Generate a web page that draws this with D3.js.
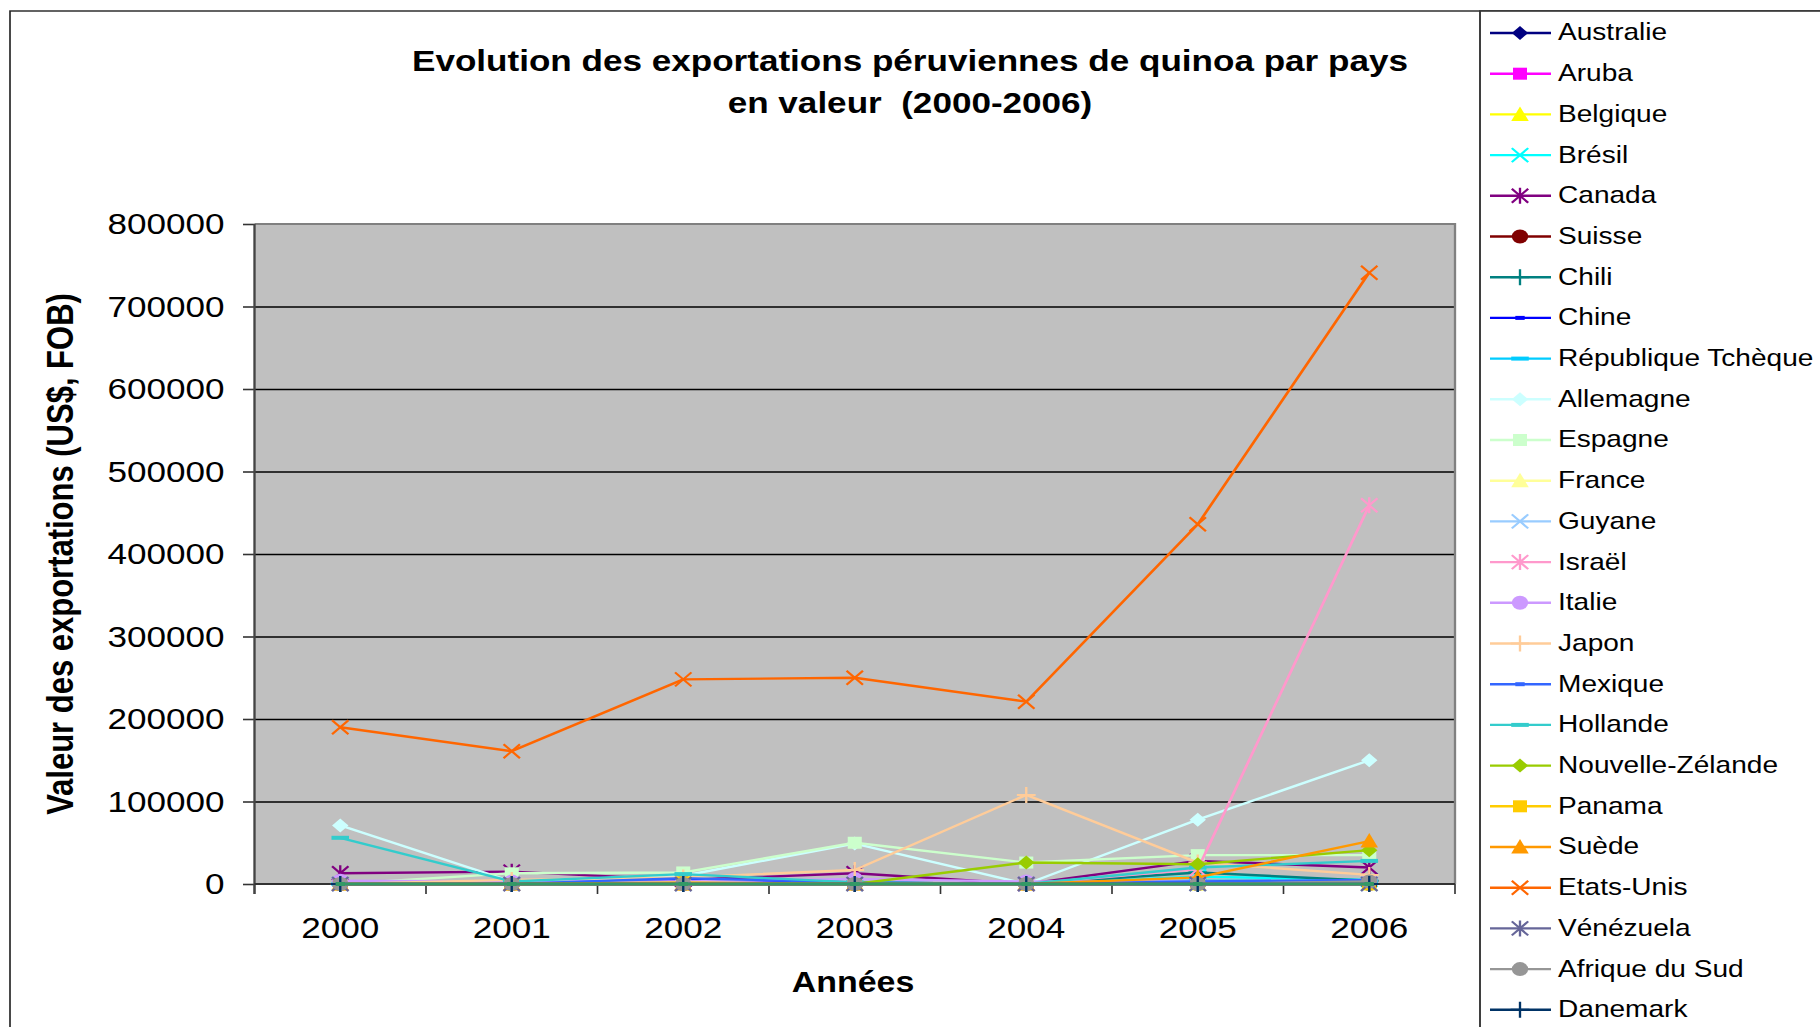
<!DOCTYPE html>
<html>
<head>
<meta charset="utf-8">
<script src="https://cdn.jsdelivr.net/npm/d3@7"></script>
<style>
  body { margin: 0; background: #fff; }
  svg { display: block; font-family: "Liberation Sans", Arial, sans-serif; }
</style>
</head>
<body>
<svg id="chart"></svg>
<script>
// ---- data ----
const years = ["2000", "2001", "2002", "2003", "2004", "2005", "2006"];
const yTicks = [0, 100000, 200000, 300000, 400000, 500000, 600000, 700000, 800000];

const countries = ["Australie", "Aruba", "Belgique", "Brésil", "Canada", "Suisse", "Chili", "Chine",
  "République Tchèque", "Allemagne", "Espagne", "France", "Guyane", "Israël", "Italie", "Japon",
  "Mexique", "Hollande", "Nouvelle-Zélande", "Panama", "Suède", "Etats-Unis", "Vénézuela",
  "Afrique du Sud", "Danemark", ""];

const seriesValues = [
  [0, 0, 0, 0, 0, 0, 0],                                   // Australie
  [0, 0, 0, 0, 0, 0, 0],                                   // Aruba
  [0, 0, 0, 0, 0, 0, 0],                                   // Belgique
  [0, 0, 0, 0, 0, 9000, 5000],                             // Brésil
  [13000, 15000, 5000, 13000, 0, 28000, 20000],            // Canada
  [0, 0, 0, 0, 0, 0, 0],                                   // Suisse
  [0, 0, 0, 0, 0, 14000, 4000],                            // Chili
  [0, 0, 6000, 2000, 0, 0, 0],                             // Chine
  [0, 0, 0, 0, 0, 4000, 3000],                             // République Tchèque
  [71000, 3000, 10000, 49000, 0, 78000, 150000],           // Allemagne
  [0, 13000, 14000, 50000, 26000, 35000, 35000],           // Espagne
  [0, 0, 0, 0, 0, 0, 0],                                   // France
  [0, 0, 0, 0, 0, 0, 0],                                   // Guyane
  [0, 0, 0, 0, 0, 18000, 459000],                          // Israël
  [4000, 3000, 3000, 6000, 3000, 3000, 4000],              // Italie
  [0, 5000, 8000, 17000, 108000, 26000, 11000],            // Japon
  [0, 0, 7000, 2000, 0, 3000, 5000],                       // Mexique
  [56000, 3000, 12000, 2000, 0, 20000, 28000],             // Hollande
  [0, 0, 0, 0, 26000, 24000, 41000],                       // Nouvelle-Zélande
  [0, 0, 2000, 0, 0, 0, 0],                                // Panama
  [0, 0, 0, 0, 0, 8000, 52000],                            // Suède
  [190000, 161000, 248000, 250000, 221000, 436000, 741000], // Etats-Unis
  [0, 0, 0, 0, 0, 0, 0],                                   // Vénézuela
  [0, 0, 0, 0, 0, 0, 3000],                                // Afrique du Sud
  [0, 0, 0, 0, 0, 0, 0],                                   // Danemark
  [0, 0, 0, 0, 0, 0, 0]                                    // (hors cadre)
];

const colors = ["#000080", "#FF00FF", "#FFFF00", "#00FFFF", "#800080", "#800000", "#008080", "#0000FF",
  "#00CCFF", "#CCFFFF", "#CCFFCC", "#FFFF99", "#99CCFF", "#FF99CC", "#CC99FF", "#FFCC99",
  "#3366FF", "#33CCCC", "#99CC00", "#FFCC00", "#FF9900", "#FF6600", "#666699",
  "#969696", "#003366", "#339966"];

const markerTypes = ["diamond", "square", "triangle", "x", "star", "circle", "plus", "dash", "longdash"];

// ---- layout ----
const SX = 1.17;   // the reference is stretched horizontally
const W = 1820, H = 1027;
const px = v => v / SX;

const svg = d3.select("#chart")
  .attr("width", W)
  .attr("height", H)
  .attr("viewBox", `0 0 ${W / SX} ${H}`)
  .attr("preserveAspectRatio", "none");

const plot = { left: px(254.5), right: px(1455), top: 224, bottom: 884 };

const x = d3.scaleBand().domain(years).range([plot.left, plot.right]);
const y = d3.scaleLinear().domain([0, 800000]).range([plot.bottom, plot.top]);

// outer chart border and legend box
svg.append("rect")
  .attr("x", px(10)).attr("y", 11)
  .attr("width", W).attr("height", H)
  .attr("fill", "none").attr("stroke", "#222").attr("stroke-width", 1.4);

svg.append("rect")
  .attr("x", px(1480)).attr("y", 11)
  .attr("width", W).attr("height", H)
  .attr("fill", "#fff").attr("stroke", "#333").attr("stroke-width", 1.6);

// title
const title = svg.append("text")
  .attr("text-anchor", "middle")
  .style("font-size", "30px")
  .style("font-weight", "bold")
  .style("white-space", "pre");
title.append("tspan").attr("x", px(910)).attr("y", 71)
  .text("Evolution des exportations péruviennes de quinoa par pays");
title.append("tspan").attr("x", px(910)).attr("y", 113)
  .text("en valeur  (2000-2006)");

// plot area
svg.append("rect")
  .attr("x", plot.left).attr("y", plot.top)
  .attr("width", plot.right - plot.left).attr("height", plot.bottom - plot.top)
  .attr("fill", "#C0C0C0");

// gridlines
svg.append("g")
  .attr("transform", `translate(${plot.left},0)`)
  .call(d3.axisLeft(y).tickValues(yTicks.slice(1, -1)).tickSize(-(plot.right - plot.left)).tickFormat(""))
  .call(g => g.select(".domain").remove())
  .call(g => g.selectAll("line").attr("stroke", "#000").attr("stroke-width", 1.3));

// plot border top / right
svg.append("path")
  .attr("d", `M${plot.left},${plot.top}H${plot.right}V${plot.bottom}`)
  .attr("fill", "none").attr("stroke", "#808080").attr("stroke-width", 2);

// y axis
svg.append("g")
  .attr("transform", `translate(${plot.left},0)`)
  .call(d3.axisLeft(y).tickValues(yTicks).tickSize(px(11.5)).tickPadding(px(18.5)).tickFormat(d3.format("d")))
  .call(g => g.select(".domain").remove())
  .call(g => g.selectAll("line").attr("stroke", "#333").attr("stroke-width", 1.6))
  .call(g => g.selectAll("text")
    .attr("fill", "#000")
    .style("font-family", "'Liberation Sans', Arial, sans-serif")
    .style("font-size", "30px"));

// x axis labels
svg.append("g")
  .attr("transform", `translate(0,${plot.bottom})`)
  .call(d3.axisBottom(x).tickSize(0).tickPadding(33))
  .call(g => g.select(".domain").remove())
  .call(g => g.selectAll("text")
    .attr("fill", "#000")
    .style("font-family", "'Liberation Sans', Arial, sans-serif")
    .style("font-size", "30px"));

// x ticks at category boundaries
const boundaries = years.map(d => x(d)).concat([plot.right]);
svg.append("g").selectAll("line")
  .data(boundaries)
  .join("line")
  .attr("x1", d => d).attr("x2", d => d)
  .attr("y1", plot.bottom).attr("y2", plot.bottom + 10)
  .attr("stroke", "#333").attr("stroke-width", 1.4);

// axis lines
svg.append("line")
  .attr("x1", plot.left).attr("x2", plot.left)
  .attr("y1", plot.top).attr("y2", plot.bottom + 10)
  .attr("stroke", "#444").attr("stroke-width", 2);
svg.append("line")
  .attr("x1", plot.left).attr("x2", plot.right)
  .attr("y1", plot.bottom).attr("y2", plot.bottom)
  .attr("stroke", "#333").attr("stroke-width", 2.2);

// axis titles
svg.append("text")
  .attr("transform", `translate(${px(73)},554) rotate(-90)`)
  .attr("text-anchor", "middle")
  .style("font-size", "31px")
  .style("font-weight", "bold")
  .text("Valeur des exportations (US$, FOB)");

svg.append("text")
  .attr("x", px(853)).attr("y", 992)
  .attr("text-anchor", "middle")
  .style("font-size", "29px")
  .style("font-weight", "bold")
  .text("Années");

// marker shapes
function markerPath(type) {
  const r = 7;
  switch (type) {
    case "diamond": return `M0,${-r}L${r},0L0,${r}L${-r},0Z`;
    case "square": return "M-6,-6h12v12h-12Z";
    case "triangle": return `M0,${-r - 1}L${r + 0.5},${r - 0.5}L${-r - 0.5},${r - 0.5}Z`;
    case "x": return `M${-r},${-r}L${r},${r}M${-r},${r}L${r},${-r}`;
    case "star": return `M${-r},${-r}L${r},${r}M${-r},${r}L${r},${-r}M0,${-r - 1}V${r + 1}`;
    case "circle": return `M${r},0A${r},${r} 0 1 1 ${-r},0A${r},${r} 0 1 1 ${r},0Z`;
    case "plus": return `M${-r - 1},0H${r + 1}M0,${-r - 1}V${r + 1}`;
    case "dash": return "M-4,-2h8v4h-8Z";
    case "longdash": return "M-7.5,-2h15v4h-15Z";
  }
}
const strokedMarker = t => t === "x" || t === "star" || t === "plus";

function drawMarker(g, type, color) {
  const p = g.append("path").attr("d", markerPath(type));
  if (strokedMarker(type)) p.attr("fill", "none").attr("stroke", color).attr("stroke-width", 2);
  else p.attr("fill", color);
}

// series
const line = d3.line()
  .x((d, i) => x(years[i]) + x.bandwidth() / 2)
  .y(d => y(d));

const seriesG = svg.append("g");
seriesValues.forEach((vals, s) => {
  const color = colors[s];
  const type = markerTypes[s % markerTypes.length];
  seriesG.append("path")
    .datum(vals)
    .attr("d", line)
    .attr("fill", "none")
    .attr("stroke", color)
    .attr("stroke-width", 2.4)
    .attr("stroke-linejoin", "round");
  vals.forEach((v, i) => {
    const m = seriesG.append("g")
      .attr("transform", `translate(${x(years[i]) + x.bandwidth() / 2},${y(v)})`);
    drawMarker(m, type, color);
  });
});

// legend
const legend = svg.append("g");
countries.forEach((name, s) => {
  if (!name) return;
  const ly = 33 + s * 40.7;
  const color = colors[s];
  legend.append("line")
    .attr("x1", px(1490)).attr("x2", px(1551))
    .attr("y1", ly).attr("y2", ly)
    .attr("stroke", color).attr("stroke-width", 2.4);
  const m = legend.append("g").attr("transform", `translate(${px(1520)},${ly})`);
  drawMarker(m, markerTypes[s % markerTypes.length], color);
  legend.append("text")
    .attr("x", px(1558)).attr("y", ly + 7.5)
    .style("font-size", "24px")
    .text(name);
});
</script>
</body>
</html>
